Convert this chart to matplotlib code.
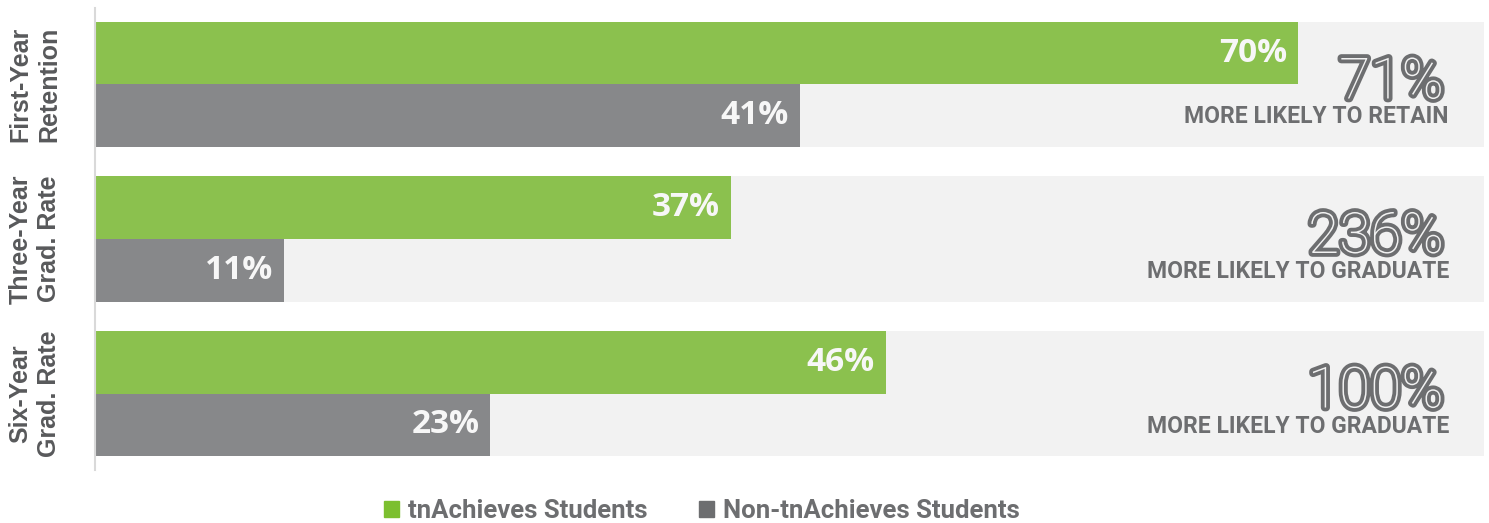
import matplotlib
matplotlib.use("Agg")
import matplotlib.pyplot as plt
import matplotlib.patheffects as pe
from matplotlib.patches import Patch

categories = ["First-Year\nRetention", "Three-Year\nGrad. Rate", "Six-Year\nGrad. Rate"]
tn_values = [70, 37, 46]
non_values = [41, 11, 23]
increase_labels = ["71%", "236%", "100%"]
increase_texts = ["MORE LIKELY TO RETAIN", "MORE LIKELY TO GRADUATE", "MORE LIKELY TO GRADUATE"]
series_names = ["tnAchieves Students", "Non-tnAchieves Students"]
band_max = 80.8

GREEN = "#8bc14e"
GRAY = "#87888a"
BAND = "#f2f2f2"
TXT = "#6d6e70"
YLAB = "#58595b"

W, H = 1489, 523
fig = plt.figure(figsize=(W / 100, H / 100), dpi=100)
ax = fig.add_axes([95 / W, 1 - 470 / H, (W - 95) / W, (470 - 8) / H])

px_per_unit = 17.19
ax.set_xlim(0, (W - 95) / px_per_unit)
ax.set_ylim(2.495, -0.495)

pos = list(range(len(categories)))
bh = 62.5 / 154.5
ax.barh(pos, [band_max] * len(pos), height=2 * bh, color=BAND, zorder=1)
ax.barh([p - bh / 2 for p in pos], tn_values, height=bh, color=GREEN, zorder=2)
ax.barh([p + bh / 2 for p in pos], non_values, height=bh, color=GRAY, zorder=2)

for p, v in zip(pos, tn_values):
    ax.annotate(f"{v}%", xy=(v, p - bh / 2), xytext=(-11, 0), textcoords="offset pixels",
                ha="right", va="center", color="#f7f7f7", fontsize=24,
                fontfamily="Open Sans", fontweight="bold", zorder=3)
for p, v in zip(pos, non_values):
    ax.annotate(f"{v}%", xy=(v, p + bh / 2), xytext=(-11, 0), textcoords="offset pixels",
                ha="right", va="center", color="#f7f7f7", fontsize=24,
                fontfamily="Open Sans", fontweight="bold", zorder=3)

for p, big, small in zip(pos, increase_labels, increase_texts):
    ax.annotate(big, xy=(band_max, p), xytext=(-40, -14), textcoords="offset pixels",
                ha="right", va="baseline", color=BAND, fontsize=41,
                fontfamily="Roboto", fontweight="light", zorder=3,
                path_effects=[pe.Stroke(linewidth=5.5, foreground=TXT), pe.Normal()])
    ax.annotate(small, xy=(band_max, p), xytext=(-35, -39), textcoords="offset pixels",
                ha="right", va="baseline", color=TXT, fontsize=16.5,
                fontfamily="Roboto", fontweight="bold", zorder=3)

for p, c in zip(pos, categories):
    ax.annotate(c, xy=(0, p), xytext=(-60, 0), textcoords="offset pixels",
                ha="center", va="center", rotation=90, multialignment="center",
                color=YLAB, fontsize=18, fontfamily="Liberation Sans", fontweight="bold",
                linespacing=1.25)

for s in ["top", "right", "bottom"]:
    ax.spines[s].set_visible(False)
ax.spines["left"].set_color("#d9d9d9")
ax.spines["left"].set_linewidth(1.5)
ax.set_xticks([])
ax.set_yticks([])

handles = [Patch(color="#7cbf2f"), Patch(color="#6d6e70")]
leg = fig.legend(handles, series_names, loc="center", bbox_to_anchor=(702 / W, 1 - 511 / H),
                 ncol=2, frameon=False, handlelength=0.6, handleheight=0.6,
                 handletextpad=0.35, columnspacing=2.0,
                 prop={"family": "Roboto", "weight": "bold", "size": 18.5})
for t in leg.get_texts():
    t.set_color(TXT)

fig.savefig("out.png", dpi=100)
